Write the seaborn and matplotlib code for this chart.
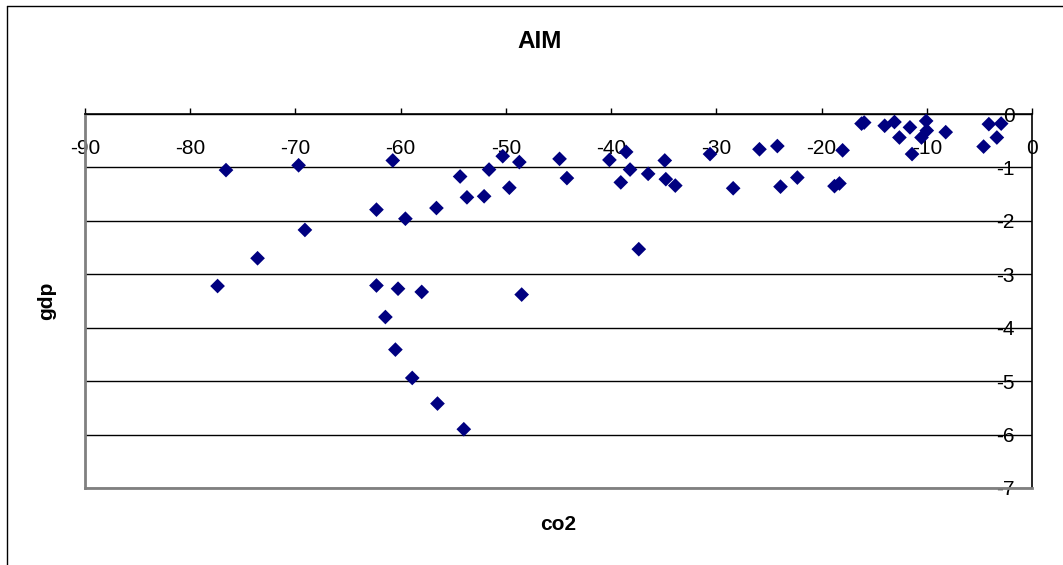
import matplotlib
matplotlib.use("Agg")
import matplotlib.pyplot as plt
from matplotlib.lines import Line2D
import seaborn as sns
import pandas as pd

# AIM model results: change in CO2 emissions vs. change in GDP (%)
co2 = [-77.4, -76.6, -73.6, -69.7, -69.1, -62.3, -62.3, -61.45, -60.75, -60.5,
       -60.25, -59.55, -58.9, -58.0, -56.6, -56.5, -54.35, -54.0, -53.7, -52.07,
       -51.6, -50.3, -49.67, -48.72, -48.5, -44.9, -44.2, -40.16, -39.08, -38.57,
       -38.2, -37.37, -36.48, -34.9, -34.8, -33.9, -30.6, -28.4, -25.9, -24.2,
       -23.9, -22.3, -18.77, -18.3, -18.0, -16.2, -15.95, -14.0, -13.07, -12.6,
       -11.6, -11.4, -10.5, -10.06, -10.0, -8.2, -4.6, -4.1, -3.34, -2.93]
gdp = [-3.22, -1.05, -2.70, -0.96, -2.17, -1.79, -3.21, -3.80, -0.87, -4.41,
       -3.27, -1.96, -4.94, -3.33, -1.76, -5.42, -1.17, -5.90, -1.56, -1.54,
       -1.04, -0.79, -1.38, -0.90, -3.38, -0.84, -1.20, -0.86, -1.28, -0.71,
       -1.04, -2.53, -1.12, -0.87, -1.22, -1.34, -0.75, -1.39, -0.66, -0.60,
       -1.36, -1.19, -1.35, -1.30, -0.68, -0.18, -0.16, -0.22, -0.15, -0.44,
       -0.25, -0.75, -0.44, -0.13, -0.31, -0.34, -0.61, -0.19, -0.44, -0.18]

x_ticks = [-90, -80, -70, -60, -50, -40, -30, -20, -10, 0]
y_ticks = [0, -1, -2, -3, -4, -5, -6, -7]

df = pd.DataFrame({"co2": co2, "gdp": gdp})

sns.set_style("white")
plt.rcParams["font.family"] = ["Liberation Sans", "DejaVu Sans"]
plt.rcParams["text.color"] = "black"
plt.rcParams["axes.labelcolor"] = "black"
plt.rcParams["xtick.color"] = "black"
plt.rcParams["ytick.color"] = "black"

W, H = 1063, 565
fig = plt.figure(figsize=(W / 100, H / 100), dpi=100)
ax = fig.add_axes([85 / W, 1 - 488 / H, (1032 - 85) / W, (488 - 114) / H])

sns.scatterplot(data=df, x="co2", y="gdp", marker="D", s=56, color="#000080",
                edgecolor="none", linewidth=0, ax=ax, zorder=3, legend=False)

ax.set_xlim(-90, 0)
ax.set_ylim(-7, 0)
ax.set_xticks(x_ticks)
ax.set_yticks(y_ticks)
ax.set_xticklabels([str(v) for v in x_ticks])
ax.set_yticklabels([str(v) for v in y_ticks])

# horizontal gridlines
ax.yaxis.grid(True, color="black", linewidth=1.0)
ax.xaxis.grid(False)
ax.set_axisbelow(True)

# x axis runs along the top (y = 0), labels sit just below it
ax.xaxis.tick_top()
ax.tick_params(axis="x", direction="out", length=4.5, width=1, color="black",
               labelsize=15, pad=-36, labelcolor="black")
# y axis runs along the right side (x = 0), labels inside the plot
ax.yaxis.tick_right()
ax.tick_params(axis="y", direction="in", length=0, labelsize=15,
               pad=-12.5, labelcolor="black")
for lbl in ax.get_yticklabels():
    lbl.set_horizontalalignment("right")

for side in ("left", "bottom"):
    ax.spines[side].set_color("#808080")
    ax.spines[side].set_linewidth(2)
for side in ("top", "right"):
    ax.spines[side].set_color("black")
    ax.spines[side].set_linewidth(1.2)

ax.set_xlabel("")
ax.set_ylabel("")

fig.text(540 / W, 1 - 42 / H, "AIM", ha="center", va="center",
         fontsize=17.5, fontweight="bold", color="black")
fig.text(558 / W, 1 - 525 / H, "co2", ha="center", va="center",
         fontsize=15, fontweight="bold", color="black")
fig.text(47 / W, 1 - 301 / H, "gdp", ha="center", va="center",
         fontsize=15, fontweight="bold", rotation=90, color="black")

# chart frame (top and left edges)
fig.add_artist(Line2D([7 / W, 1], [1 - 6 / H, 1 - 6 / H], color="black",
                      linewidth=1, transform=fig.transFigure))
fig.add_artist(Line2D([7 / W, 7 / W], [0, 1 - 6 / H], color="black",
                      linewidth=1, transform=fig.transFigure))

fig.savefig("out.png", dpi=100, facecolor="white")
